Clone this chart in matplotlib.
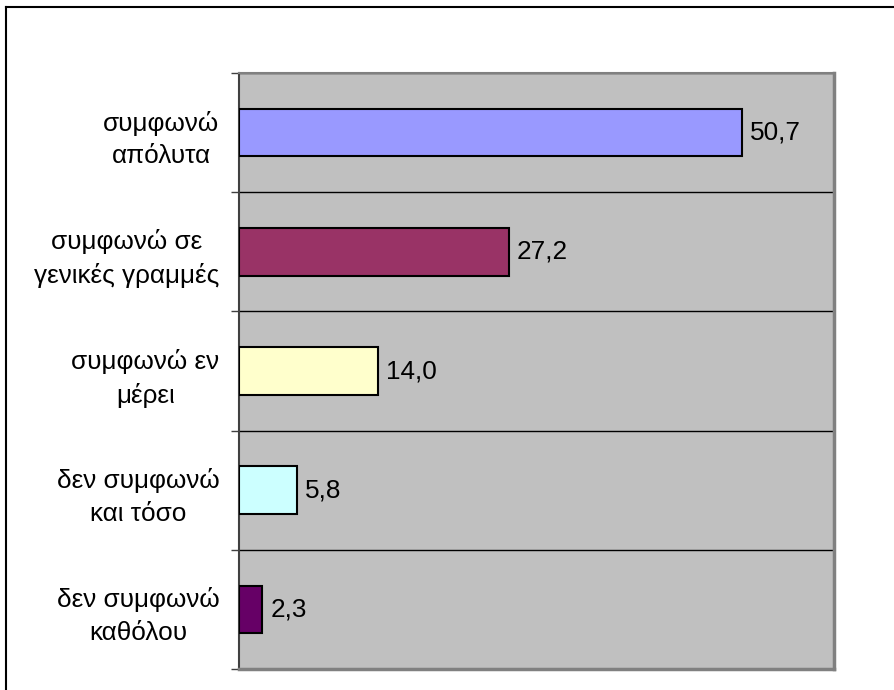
import matplotlib
matplotlib.use("Agg")
import matplotlib.pyplot as plt
from matplotlib.lines import Line2D

# chart data
categories = ["συμφωνώ\nαπόλυτα", "συμφωνώ σε\nγενικές γραμμές", "συμφωνώ εν\nμέρει",
              "δεν συμφωνώ\nκαι τόσο", "δεν συμφωνώ\nκαθόλου"]
values = [50.7, 27.2, 14.0, 5.8, 2.3]
bar_colors = ["#9999FF", "#993366", "#FFFFCC", "#CCFFFF", "#660066"]
x_max = 60

plt.rcParams['font.family'] = ['Liberation Sans', 'DejaVu Sans']

fig = plt.figure(figsize=(8.94, 6.90), dpi=100)
ax = fig.add_axes([239 / 894, 1 - 669 / 690, 595 / 894, 596 / 690])
ax.set_facecolor("#C0C0C0")

pos = list(range(len(categories)))
ax.barh(pos, values, height=0.4, color=bar_colors, edgecolor="black", linewidth=1.5, zorder=3)

for p, v in zip(pos, values):
    ax.annotate(f"{v:.1f}".replace(".", ","), xy=(v, p), xytext=(6, 0),
                textcoords="offset points", va="center", ha="left", fontsize=18.8)

ax.set_xlim(0, x_max)
ax.set_ylim(len(categories) - 0.5, -0.5)

# category labels, no tick marks
ax.set_yticks(pos)
ax.set_yticklabels(categories, fontsize=18.8, multialignment="center", linespacing=1.45)
ax.tick_params(axis="y", which="major", length=0, pad=14)

# boundary ticks + gridlines
ax.set_yticks([i - 0.5 for i in range(len(categories) + 1)], minor=True)
ax.tick_params(axis="y", which="minor", length=5.8, width=1, color="#404040")
ax.grid(True, axis="y", which="minor", color="black", linewidth=1, zorder=1)
ax.set_axisbelow(True)

ax.set_xticks([])

ax.spines["left"].set_color("#404040")
ax.spines["left"].set_linewidth(1.5)
ax.spines["top"].set_color("#808080")
ax.spines["top"].set_linewidth(1.5)
ax.spines["right"].set_color("#808080")
ax.spines["right"].set_linewidth(2.5)
ax.spines["bottom"].set_color("#808080")
ax.spines["bottom"].set_linewidth(2.5)

# outer chart border (top and left visible)
fig.add_artist(Line2D([6 / 894, 1], [1 - 7 / 690, 1 - 7 / 690], color="black", linewidth=1.5,
                      transform=fig.transFigure))
fig.add_artist(Line2D([6 / 894, 6 / 894], [0, 1 - 7 / 690], color="black", linewidth=1.5,
                      transform=fig.transFigure))

fig.savefig("out.png", dpi=100)
